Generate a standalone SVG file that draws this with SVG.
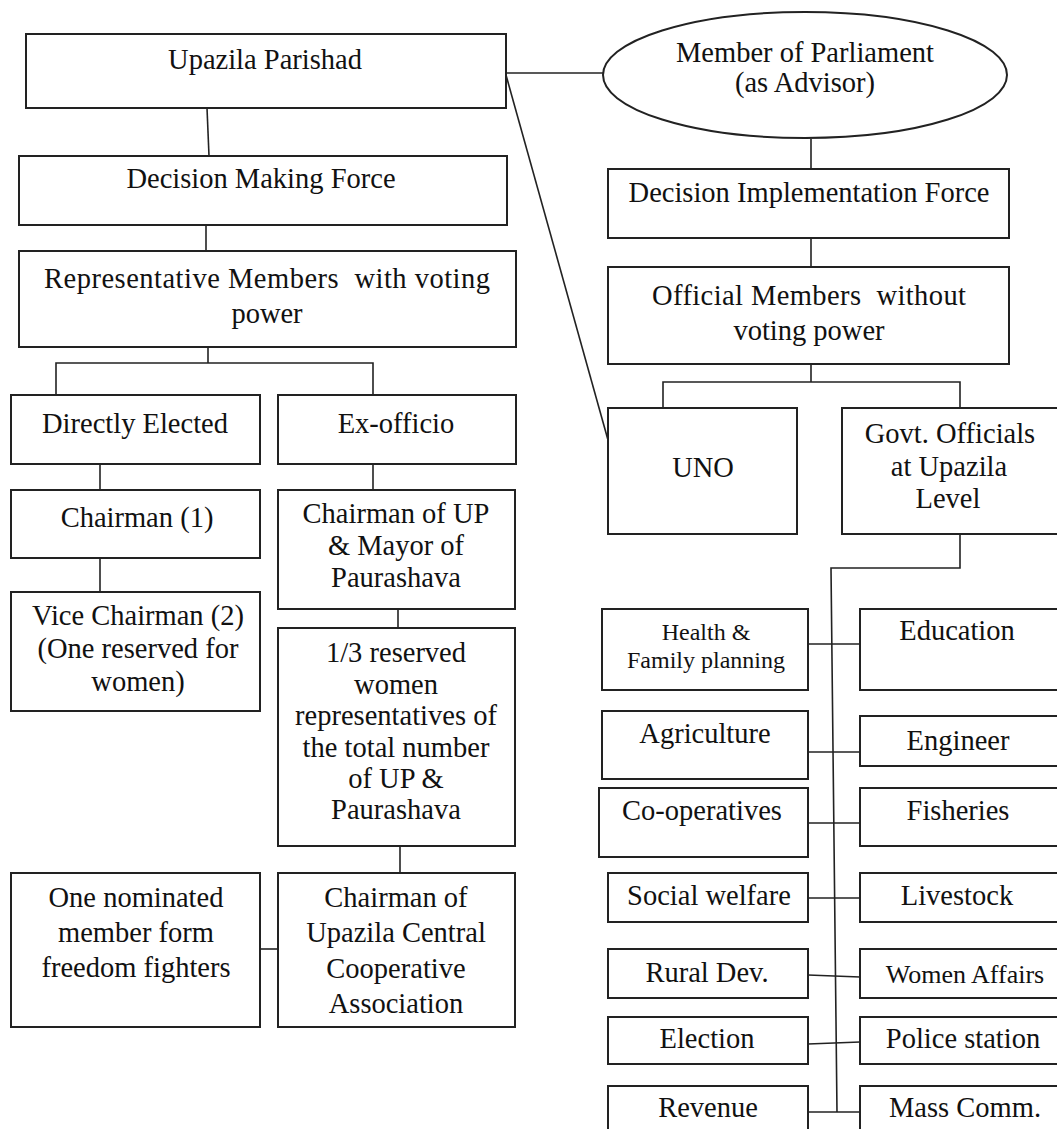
<svg xmlns="http://www.w3.org/2000/svg" width="1057" height="1129" viewBox="0 0 1057 1129">
<style>
.b{fill:#fff;stroke:#222;stroke-width:2}
.c{fill:none;stroke:#222;stroke-width:1.6}
text{font-family:"Liberation Serif","Times New Roman",serif;font-size:28.5px;fill:#111;text-anchor:middle}
.s{font-size:24px}
.m{font-size:26px}
</style>
<rect width="1057" height="1129" fill="#fff"/>
<g id="connectors">
<path class="c" d="M207,108 L209,156"/>
<path class="c" d="M206,225 L206,251"/>
<path class="c" d="M208,347 L208,363 M56,395 L56,363 L373,363 L373,395"/>
<path class="c" d="M100,464 L100,490"/>
<path class="c" d="M100,558 L100,592"/>
<path class="c" d="M373,464 L373,490"/>
<path class="c" d="M398,609 L398,628"/>
<path class="c" d="M400,846 L400,873"/>
<path class="c" d="M260,949 L278,949"/>
<path class="c" d="M506,73 L604,73"/>
<path class="c" d="M506,75 L608,440"/>
<path class="c" d="M811,139 L811,169"/>
<path class="c" d="M811,238 L811,267"/>
<path class="c" d="M811,364 L811,382 M663,408 L663,382 L960,382 L960,408"/>
<path class="c" d="M960,534 L960,568 L831,568 L837,1112"/>
<path class="c" d="M808,644 L860,644"/>
<path class="c" d="M808,752 L860,752"/>
<path class="c" d="M808,823 L860,823"/>
<path class="c" d="M808,898 L860,898"/>
<path class="c" d="M808,975 L834,976 L860,977"/>
<path class="c" d="M808,1044 L834,1043 L860,1042"/>
<path class="c" d="M808,1112 L860,1112"/>
</g>
<g id="upazila-parishad"><rect class="b" x="26" y="34" width="480" height="74"/><text x="265" y="69">Upazila Parishad</text></g>
<g id="member-of-parliament"><ellipse class="b" cx="805" cy="75" rx="202" ry="63"/><text x="805" y="62">Member of Parliament</text><text x="805" y="92">(as Advisor)</text></g>
<g id="decision-making"><rect class="b" x="19" y="156" width="488" height="69"/><text x="261" y="188">Decision Making Force</text></g>
<g id="decision-implementation"><rect class="b" x="608" y="169" width="401" height="69"/><text x="809" y="202">Decision Implementation Force</text></g>
<g id="representative"><rect class="b" x="19" y="251" width="497" height="96"/><text x="267" y="288" style="white-space:pre" textLength="446" lengthAdjust="spacing">Representative Members  with voting</text><text x="267" y="323">power</text></g>
<g id="official"><rect class="b" x="608" y="267" width="401" height="97"/><text x="809" y="305" style="white-space:pre" textLength="314" lengthAdjust="spacing">Official Members  without</text><text x="809" y="340">voting power</text></g>
<g id="directly-elected"><rect class="b" x="11" y="395" width="249" height="69"/><text x="135" y="433">Directly Elected</text></g>
<g id="ex-officio"><rect class="b" x="278" y="395" width="238" height="69"/><text x="396" y="433">Ex-officio</text></g>
<g id="uno"><rect class="b" x="608" y="408" width="189" height="126"/><text x="703" y="477">UNO</text></g>
<g id="govt-officials"><rect class="b" x="842" y="408" width="222" height="126"/><text x="950" y="443">Govt. Officials</text><text x="949" y="476">at Upazila</text><text x="948" y="508">Level</text></g>
<g id="chairman"><rect class="b" x="11" y="490" width="249" height="68"/><text x="137" y="527">Chairman (1)</text></g>
<g id="chairman-up"><rect class="b" x="278" y="490" width="237" height="119"/><text x="396" y="523">Chairman of UP</text><text x="396" y="555">&amp; Mayor of</text><text x="396" y="587">Paurashava</text></g>
<g id="vice-chairman"><rect class="b" x="11" y="592" width="249" height="119"/><text x="138" y="625">Vice Chairman (2)</text><text x="138" y="658">(One reserved for</text><text x="138" y="691">women)</text></g>
<g id="reserved-women"><rect class="b" x="278" y="628" width="237" height="218"/><text x="396" y="662">1/3 reserved</text><text x="396" y="694">women</text><text x="396" y="725">representatives of</text><text x="396" y="757">the total number</text><text x="396" y="788">of UP &amp;</text><text x="396" y="819">Paurashava</text></g>
<g id="nominated"><rect class="b" x="11" y="873" width="249" height="154"/><text x="136" y="907">One nominated</text><text x="136" y="942">member form</text><text x="136" y="977">freedom fighters</text></g>
<g id="chairman-central"><rect class="b" x="278" y="873" width="237" height="154"/><text x="396" y="907">Chairman of</text><text x="396" y="942">Upazila Central</text><text x="396" y="978">Cooperative</text><text x="396" y="1013">Association</text></g>
<g id="health"><rect class="b" x="602" y="609" width="206" height="81"/><text class="s" x="706" y="640">Health &amp;</text><text class="s" x="706" y="668">Family planning</text></g>
<g id="education"><rect class="b" x="860" y="609" width="204" height="81"/><text x="957" y="640">Education</text></g>
<g id="agriculture"><rect class="b" x="602" y="711" width="206" height="68"/><text x="705" y="743">Agriculture</text></g>
<g id="engineer"><rect class="b" x="860" y="716" width="204" height="50"/><text x="958" y="750">Engineer</text></g>
<g id="cooperatives"><rect class="b" x="599" y="788" width="209" height="69"/><text x="702" y="820">Co-operatives</text></g>
<g id="fisheries"><rect class="b" x="860" y="788" width="204" height="58"/><text x="958" y="820">Fisheries</text></g>
<g id="social-welfare"><rect class="b" x="608" y="873" width="200" height="49"/><text x="709" y="905">Social welfare</text></g>
<g id="livestock"><rect class="b" x="860" y="873" width="204" height="49"/><text x="957" y="905">Livestock</text></g>
<g id="rural-dev"><rect class="b" x="608" y="949" width="200" height="49"/><text x="707" y="982">Rural Dev.</text></g>
<g id="women-affairs"><rect class="b" x="860" y="949" width="204" height="49"/><text class="m" x="965" y="983">Women Affairs</text></g>
<g id="election"><rect class="b" x="608" y="1017" width="200" height="47"/><text x="707" y="1048">Election</text></g>
<g id="police-station"><rect class="b" x="860" y="1017" width="204" height="47"/><text x="963" y="1048">Police station</text></g>
<g id="revenue"><rect class="b" x="608" y="1086" width="200" height="50"/><text x="708" y="1117">Revenue</text></g>
<g id="mass-comm"><rect class="b" x="860" y="1086" width="204" height="50"/><text x="965" y="1117">Mass Comm.</text></g>
</svg>
